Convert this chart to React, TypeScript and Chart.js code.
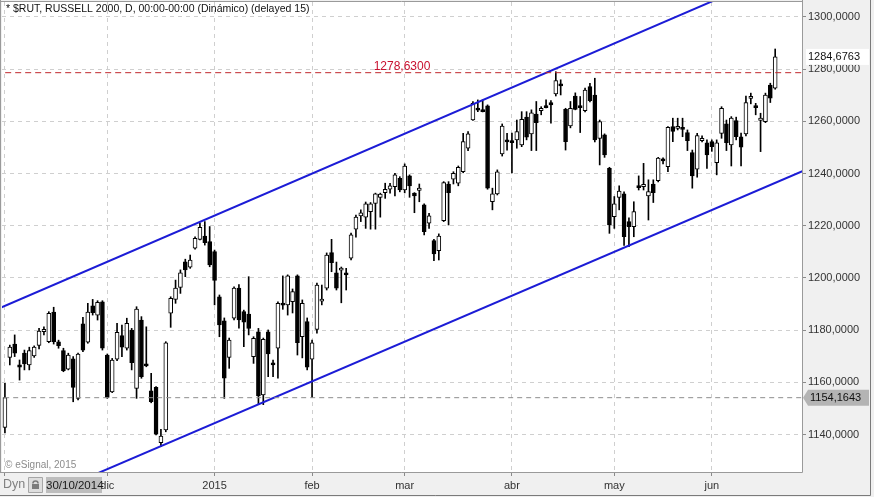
import { useEffect, useRef } from "react";
import { Chart, registerables } from "chart.js";

Chart.register(...registerables);

// daily OHLC, RUSSELL 2000, 30/10/2014 .. 18/06/2015
const opens = [
  1142.8, 1169.6, 1174.7, 1166.7, 1171.2, 1166.7, 1170.2, 1174.2, 1179.4, 1175.6,
  1186.9, 1175.6, 1172.2, 1165.1, 1169.0, 1153.9, 1182.4, 1175.4, 1189.3, 1185.8,
  1190.9, 1170.5, 1156.4, 1168.9, 1177.9, 1173.1, 1180.1, 1157.7, 1183.9, 1166.9,
  1156.8, 1158.1, 1136.9, 1141.8, 1186.5, 1191.8, 1196.4, 1206.2, 1204.1, 1211.4,
  1214.8, 1216.1, 1213.9, 1210.1, 1192.8, 1183.6, 1169.6, 1184.6, 1196.1, 1187.1,
  1186.2, 1169.9, 1179.4, 1155.2, 1179.4, 1167.3, 1173.1, 1190.3, 1189.7, 1190.9,
  1200.8, 1177.5, 1183.3, 1168.9, 1180.3, 1191.4, 1196.1, 1209.7, 1202.0, 1203.3,
  1202.0, 1207.6, 1218.7, 1223.8, 1223.3, 1225.4, 1228.6, 1230.9, 1232.7, 1234.0,
  1235.0, 1238.2, 1233.7, 1239.1, 1232.5, 1233.5, 1228.0, 1221.0, 1214.3, 1210.5,
  1222.0, 1236.0, 1237.8, 1236.3, 1240.7, 1249.7, 1260.5, 1264.8, 1264.2, 1265.9,
  1229.2, 1232.2, 1247.5, 1252.6, 1252.4, 1252.9, 1251.0, 1261.6, 1255.2, 1262.8,
  1264.1, 1265.8, 1267.2, 1270.5, 1274.1, 1264.6, 1258.2, 1269.7, 1265.8, 1264.1,
  1273.3, 1270.1, 1253.5, 1254.8, 1242.0, 1223.5, 1230.9, 1232.2, 1221.6, 1219.7,
  1235.1, 1235.0, 1231.4, 1236.0, 1237.3, 1245.5, 1242.6, 1258.0, 1257.6, 1257.4,
  1255.7, 1248.0, 1241.7, 1252.6, 1251.8, 1252.2, 1244.2, 1255.4, 1259.0, 1251.0,
  1260.3, 1254.1, 1255.2, 1269.1, 1265.8, 1260.3, 1259.9, 1273.9, 1272.7,
];
const highs = [
  1159.7, 1174.3, 1178.2, 1168.6, 1172.4, 1173.5, 1174.0, 1180.7, 1181.3, 1187.1,
  1188.8, 1176.2, 1173.1, 1171.2, 1169.9, 1171.2, 1184.9, 1190.3, 1191.8, 1191.3,
  1191.3, 1170.9, 1169.2, 1182.6, 1182.0, 1184.6, 1180.7, 1189.0, 1185.2, 1181.3,
  1163.5, 1158.4, 1142.0, 1175.6, 1192.8, 1199.2, 1203.1, 1207.2, 1208.8, 1215.8,
  1221.0, 1221.6, 1219.7, 1210.7, 1193.5, 1184.7, 1177.0, 1196.6, 1197.5, 1187.7,
  1200.5, 1177.5, 1180.7, 1177.0, 1180.1, 1168.6, 1190.9, 1200.8, 1201.2, 1195.8,
  1201.2, 1191.6, 1184.7, 1176.2, 1198.1, 1197.3, 1209.6, 1214.8, 1206.1, 1204.2,
  1203.7, 1217.2, 1224.1, 1226.1, 1229.1, 1228.9, 1232.5, 1232.5, 1236.3, 1236.3,
  1240.1, 1238.8, 1243.7, 1239.5, 1232.7, 1236.0, 1228.4, 1224.8, 1214.8, 1216.9,
  1236.9, 1236.9, 1240.7, 1242.9, 1255.4, 1256.1, 1267.6, 1268.2, 1268.2, 1266.3,
  1234.4, 1241.4, 1259.0, 1255.4, 1255.5, 1260.5, 1263.7, 1263.7, 1264.4, 1267.6,
  1265.6, 1268.2, 1267.9, 1279.0, 1275.9, 1265.0, 1267.6, 1270.9, 1269.5, 1272.7,
  1274.6, 1276.5, 1260.5, 1255.2, 1242.4, 1231.2, 1235.3, 1233.0, 1223.0, 1229.2,
  1239.1, 1243.9, 1237.6, 1237.6, 1246.2, 1246.0, 1258.0, 1261.2, 1261.2, 1261.2,
  1256.7, 1249.0, 1255.4, 1254.4, 1252.9, 1252.9, 1252.9, 1265.6, 1260.5, 1261.8,
  1261.6, 1255.5, 1269.7, 1270.8, 1266.9, 1263.1, 1270.8, 1274.6, 1287.7,
];
const lows = [
  1140.7, 1166.7, 1169.9, 1160.9, 1164.8, 1164.8, 1169.6, 1172.8, 1178.2, 1175.2,
  1174.7, 1173.1, 1164.1, 1164.8, 1152.6, 1153.3, 1171.8, 1175.0, 1185.8, 1183.9,
  1172.4, 1153.9, 1156.1, 1168.3, 1169.9, 1172.4, 1164.8, 1153.9, 1161.6, 1166.0,
  1152.2, 1139.9, 1135.4, 1141.1, 1181.1, 1190.3, 1194.1, 1200.5, 1203.7, 1211.0,
  1214.6, 1212.6, 1204.3, 1189.7, 1177.5, 1153.9, 1165.4, 1183.9, 1180.8, 1173.7,
  1178.2, 1167.3, 1151.7, 1151.5, 1162.2, 1162.2, 1161.6, 1188.0, 1185.8, 1186.6,
  1170.5, 1169.4, 1164.8, 1154.3, 1178.9, 1189.7, 1195.4, 1202.4, 1195.4, 1190.5,
  1195.4, 1206.9, 1215.6, 1221.6, 1219.0, 1218.7, 1218.7, 1223.3, 1230.5, 1232.5,
  1231.4, 1233.0, 1232.6, 1230.9, 1225.0, 1229.2, 1216.5, 1219.0, 1206.6, 1206.9,
  1221.6, 1220.3, 1236.0, 1235.3, 1240.3, 1248.8, 1260.3, 1263.7, 1263.6, 1234.0,
  1226.1, 1231.8, 1246.7, 1249.0, 1240.2, 1249.7, 1250.3, 1252.9, 1248.8, 1248.8,
  1262.5, 1265.1, 1259.3, 1269.7, 1270.1, 1249.0, 1257.5, 1264.4, 1255.7, 1263.6,
  1267.4, 1252.1, 1243.3, 1246.2, 1217.1, 1219.0, 1226.1, 1212.5, 1212.0, 1215.8,
  1233.7, 1233.7, 1222.2, 1228.9, 1236.8, 1243.7, 1240.7, 1252.2, 1256.7, 1254.1,
  1248.8, 1234.4, 1238.6, 1252.1, 1242.0, 1248.5, 1239.5, 1253.5, 1248.8, 1242.9,
  1252.9, 1242.9, 1254.4, 1266.7, 1262.5, 1248.4, 1259.5, 1267.2, 1272.3,
];
const closes = [
  1154.1643, 1173.5, 1171.2, 1165.8, 1167.1, 1172.2, 1173.5, 1179.7, 1180.3, 1186.5,
  1175.6, 1174.1, 1164.5, 1170.5, 1158.1, 1170.9, 1172.4, 1186.9, 1186.7, 1190.7,
  1173.1, 1154.3, 1168.6, 1179.2, 1173.5, 1182.6, 1167.6, 1188.1, 1162.2, 1166.5,
  1152.6, 1140.2, 1139.5, 1175.2, 1192.2, 1196.1, 1202.0, 1203.1, 1206.9, 1215.2,
  1219.4, 1213.5, 1205.0, 1199.1, 1182.0, 1161.6, 1176.2, 1196.1, 1183.9, 1183.1,
  1180.7, 1176.9, 1154.8, 1176.5, 1170.9, 1167.0, 1190.3, 1189.7, 1200.8, 1194.8,
  1175.2, 1190.3, 1165.8, 1175.2, 1197.3, 1191.6, 1208.8, 1205.9, 1196.1, 1203.5,
  1201.2, 1216.5, 1223.3, 1225.0, 1228.4, 1228.4, 1232.2, 1232.1, 1234.0, 1235.3,
  1239.5, 1233.7, 1242.9, 1235.3, 1231.4, 1234.4, 1217.7, 1223.8, 1209.2, 1216.1,
  1236.5, 1232.7, 1240.1, 1242.4, 1252.2, 1255.2, 1266.9, 1264.6, 1264.0, 1234.4,
  1232.2, 1240.7, 1258.2, 1252.4, 1252.0, 1256.1, 1260.8, 1253.9, 1263.3, 1259.5,
  1265.0, 1265.5, 1266.3, 1275.6, 1273.8, 1252.2, 1265.0, 1264.6, 1265.4, 1272.0,
  1267.9, 1252.9, 1259.9, 1247.1, 1220.3, 1228.4, 1233.3, 1215.8, 1219.7, 1225.4,
  1234.9, 1235.9, 1233.1, 1232.7, 1245.9, 1244.9, 1257.7, 1256.1, 1257.8, 1257.2,
  1252.6, 1239.1, 1254.5, 1253.5, 1247.1, 1250.3, 1251.8, 1265.0, 1251.8, 1261.2,
  1254.1, 1250.1, 1267.2, 1269.3, 1265.5, 1261.2, 1270.1, 1268.9, 1284.6763,
];

// first bar of each month (bar index) and its label
const monthTicks = [0, 21, 43, 63, 82, 104, 125, 145];
const monthLabels = ["", "dic", "2015", "feb", "mar", "abr", "may", "jun"];
const priceTicks = [1140, 1160, 1180, 1200, 1220, 1240, 1260, 1280, 1300];

// hand drawn channel (bar index, price)
const upperChannel = [
  { x: -1, y: 1188.5 },
  { x: 165, y: 1322 },
];
const lowerChannel = [
  { x: 0, y: 1110 },
  { x: 165, y: 1242 },
];
const resistance = 1278.63;

const title = "* $RUT, RUSSELL 2000, D, 00:00-00:00 (Dinámico) (delayed 15)";
const startDate = "30/10/2014";

const FONT = "'Liberation Sans', Arial, sans-serif";
const fmt = (v: number) => v.toFixed(4).replace(".", ",");

const decor = {
  id: "decor",
  beforeDraw(chart: any) {
    const { ctx, chartArea: a, width, height } = chart;
    ctx.save();
    ctx.fillStyle = "#f0f0f0";
    ctx.fillRect(0, 0, width, height);
    ctx.fillStyle = "#ffffff";
    ctx.fillRect(a.left, a.top, a.right - a.left, a.bottom - a.top);
    ctx.restore();
  },
  afterDraw(chart: any) {
    const { ctx, chartArea: a } = chart;
    const ys = chart.scales.y;
    ctx.save();

    // frame
    ctx.strokeStyle = "#9a9a9a";
    ctx.lineWidth = 1;
    ctx.beginPath();
    ctx.moveTo(0.5, a.top - 0.5);
    ctx.lineTo(a.right + 0.5, a.top - 0.5);
    ctx.moveTo(0.5, 0);
    ctx.lineTo(0.5, a.bottom);
    ctx.moveTo(a.right + 0.5, 0);
    ctx.lineTo(a.right + 0.5, a.bottom + 0.5);
    ctx.lineTo(0, a.bottom + 0.5);
    ctx.stroke();
    ctx.strokeStyle = "#7a7a7a";
    ctx.beginPath();
    ctx.moveTo(870.5, 0);
    ctx.lineTo(870.5, 495.5);
    ctx.lineTo(0, 495.5);
    ctx.stroke();

    // resistance label
    const ry = ys.getPixelForValue(resistance);
    ctx.font = `12px ${FONT}`;
    ctx.fillStyle = "#c8102e";
    ctx.textAlign = "center";
    ctx.textBaseline = "alphabetic";
    ctx.fillText(fmt(resistance), (a.left + a.right) / 2, ry - 3);

    // price tags on the axis
    ctx.font = `11px ${FONT}`;
    ctx.textAlign = "left";
    ctx.textBaseline = "middle";
    const y0 = ys.getPixelForValue(closes[0]);
    ctx.fillStyle = "#b4b4b4";
    ctx.beginPath();
    ctx.moveTo(a.right + 1, y0);
    ctx.lineTo(a.right + 6, y0 - 8);
    ctx.lineTo(869, y0 - 8);
    ctx.lineTo(869, y0 + 8);
    ctx.lineTo(a.right + 6, y0 + 8);
    ctx.closePath();
    ctx.fill();
    ctx.fillStyle = "#111";
    ctx.fillText(fmt(closes[0]), a.right + 8, y0 + 0.5);

    const yl = ys.getPixelForValue(closes[closes.length - 1]);
    ctx.fillStyle = "#ffffff";
    ctx.fillRect(a.right + 4, yl - 8, 865 - a.right, 16);
    ctx.fillStyle = "#111";
    ctx.fillText(fmt(closes[closes.length - 1]), a.right + 6, yl + 0.5);

    // header / copyright
    ctx.textBaseline = "alphabetic";
    ctx.font = `10.5px ${FONT}`;
    ctx.fillStyle = "#111";
    ctx.fillText(title, 6, 12);
    ctx.font = `10px ${FONT}`;
    ctx.fillStyle = "#8c8c8c";
    ctx.fillText("© eSignal, 2015", 5, 468);

    // bottom status strip
    ctx.font = `12.5px ${FONT}`;
    ctx.fillStyle = "#808080";
    ctx.textBaseline = "middle";
    ctx.fillText("Dyn", 3, 485);
    ctx.fillStyle = "#dedede";
    ctx.strokeStyle = "#a6a6a6";
    ctx.beginPath();
    ctx.rect(28.5, 477.5, 14, 15);
    ctx.fill();
    ctx.stroke();
    ctx.strokeStyle = "#7c7c7c";
    ctx.lineWidth = 1.5;
    ctx.beginPath();
    ctx.arc(35.5, 483.5, 2.6, Math.PI, 0);
    ctx.stroke();
    ctx.fillStyle = "#7c7c7c";
    ctx.fillRect(32, 484, 7, 5);
    ctx.fillStyle = "#bdbdbd";
    ctx.fillRect(46, 477, 56, 16);
    ctx.font = `11.5px ${FONT}`;
    ctx.fillStyle = "#1a1a1a";
    ctx.fillText(startDate, 46, 485.5);
    ctx.restore();
  },
};

export default function App() {
  const chartRef = useRef<HTMLCanvasElement>(null);

  useEffect(() => {
    if (!chartRef.current) return;

    const bodies = opens.map((o, i) => {
      let lo = Math.min(o, closes[i]);
      let hi = Math.max(o, closes[i]);
      if (hi - lo < 0.8) {
        const m = (lo + hi) / 2;
        lo = m - 0.4;
        hi = m + 0.4;
      }
      return { x: i, y: [lo, hi] };
    });
    const bodyColors = opens.map((o, i) => (closes[i] >= o ? "#ffffff" : "#000000"));
    const wicks = highs.map((h, i) => ({ x: i, y: [lows[i], h] }));
    const flat = (v: number) => [
      { x: -2, y: v },
      { x: 170, y: v },
    ];

    const chart = new Chart(chartRef.current, {
      type: "bar",
      data: {
        datasets: [
          {
            data: wicks as any,
            backgroundColor: "#000000",
            borderWidth: 0,
            barThickness: 1,
            grouped: false,
            order: 4,
          },
          {
            data: bodies as any,
            backgroundColor: bodyColors,
            borderColor: "#000000",
            borderWidth: 1,
            borderSkipped: false,
            barThickness: 4,
            grouped: false,
            order: 3,
          },
          {
            type: "line",
            data: upperChannel,
            borderColor: "#1c1cd6",
            borderWidth: 2,
            pointRadius: 0,
            order: 2,
          },
          {
            type: "line",
            data: lowerChannel,
            borderColor: "#1c1cd6",
            borderWidth: 2,
            pointRadius: 0,
            order: 2,
          },
          {
            type: "line",
            data: flat(resistance),
            borderColor: "#c0282d",
            borderWidth: 1,
            borderDash: [6, 4],
            pointRadius: 0,
            order: 1,
          },
          {
            type: "line",
            data: flat(closes[0]),
            borderColor: "#8e8e8e",
            borderWidth: 1,
            borderDash: [5, 4],
            pointRadius: 0,
            order: 1,
          },
        ] as any,
      },
      options: {
        animation: false,
        responsive: true,
        maintainAspectRatio: false,
        events: [],
        layout: { padding: { left: 2, top: 2, right: 0, bottom: 0 } },
        plugins: {
          legend: { display: false },
          tooltip: { enabled: false },
        },
        scales: {
          x: {
            type: "linear",
            min: -0.6,
            max: 163.5,
            offset: false,
            afterBuildTicks: (scale: any) => {
              scale.ticks = monthTicks.map((v) => ({ value: v }));
            },
            afterFit: (scale: any) => {
              scale.height = 25;
              scale.paddingLeft = 0;
              scale.paddingRight = 0;
            },
            grid: {
              offset: false,
              color: "#cfcfcf",
              tickColor: "#8a8a8a",
              tickLength: 4,
              tickBorderDash: [],
            },
            border: { display: false, dash: [4, 4] },
            ticks: {
              autoSkip: false,
              maxRotation: 0,
              padding: 3,
              color: "#333333",
              font: { family: FONT, size: 11 },
              callback: (v: any) => {
                const k = monthTicks.indexOf(Number(v));
                return k >= 0 ? monthLabels[k] : "";
              },
            },
          },
          y: {
            position: "right",
            min: 1125.7,
            max: 1305.7,
            afterBuildTicks: (scale: any) => {
              scale.ticks = priceTicks.map((v) => ({ value: v }));
            },
            afterFit: (scale: any) => {
              scale.width = 72;
              scale.paddingTop = 0;
              scale.paddingBottom = 0;
            },
            grid: {
              color: "#cfcfcf",
              tickColor: "#8a8a8a",
              tickLength: 4,
              tickBorderDash: [],
            },
            border: { display: false, dash: [4, 4] },
            ticks: {
              padding: 2,
              color: "#333333",
              font: { family: FONT, size: 11 },
              callback: (v: any) => fmt(Number(v)),
            },
          },
        },
      },
      plugins: [decor],
    });

    return () => {
      chart.destroy();
    };
  }, []);

  return (
    <div style={{ position: "fixed", left: 0, top: 0, width: 874, height: 497 }}>
      <canvas ref={chartRef} />
    </div>
  );
}
